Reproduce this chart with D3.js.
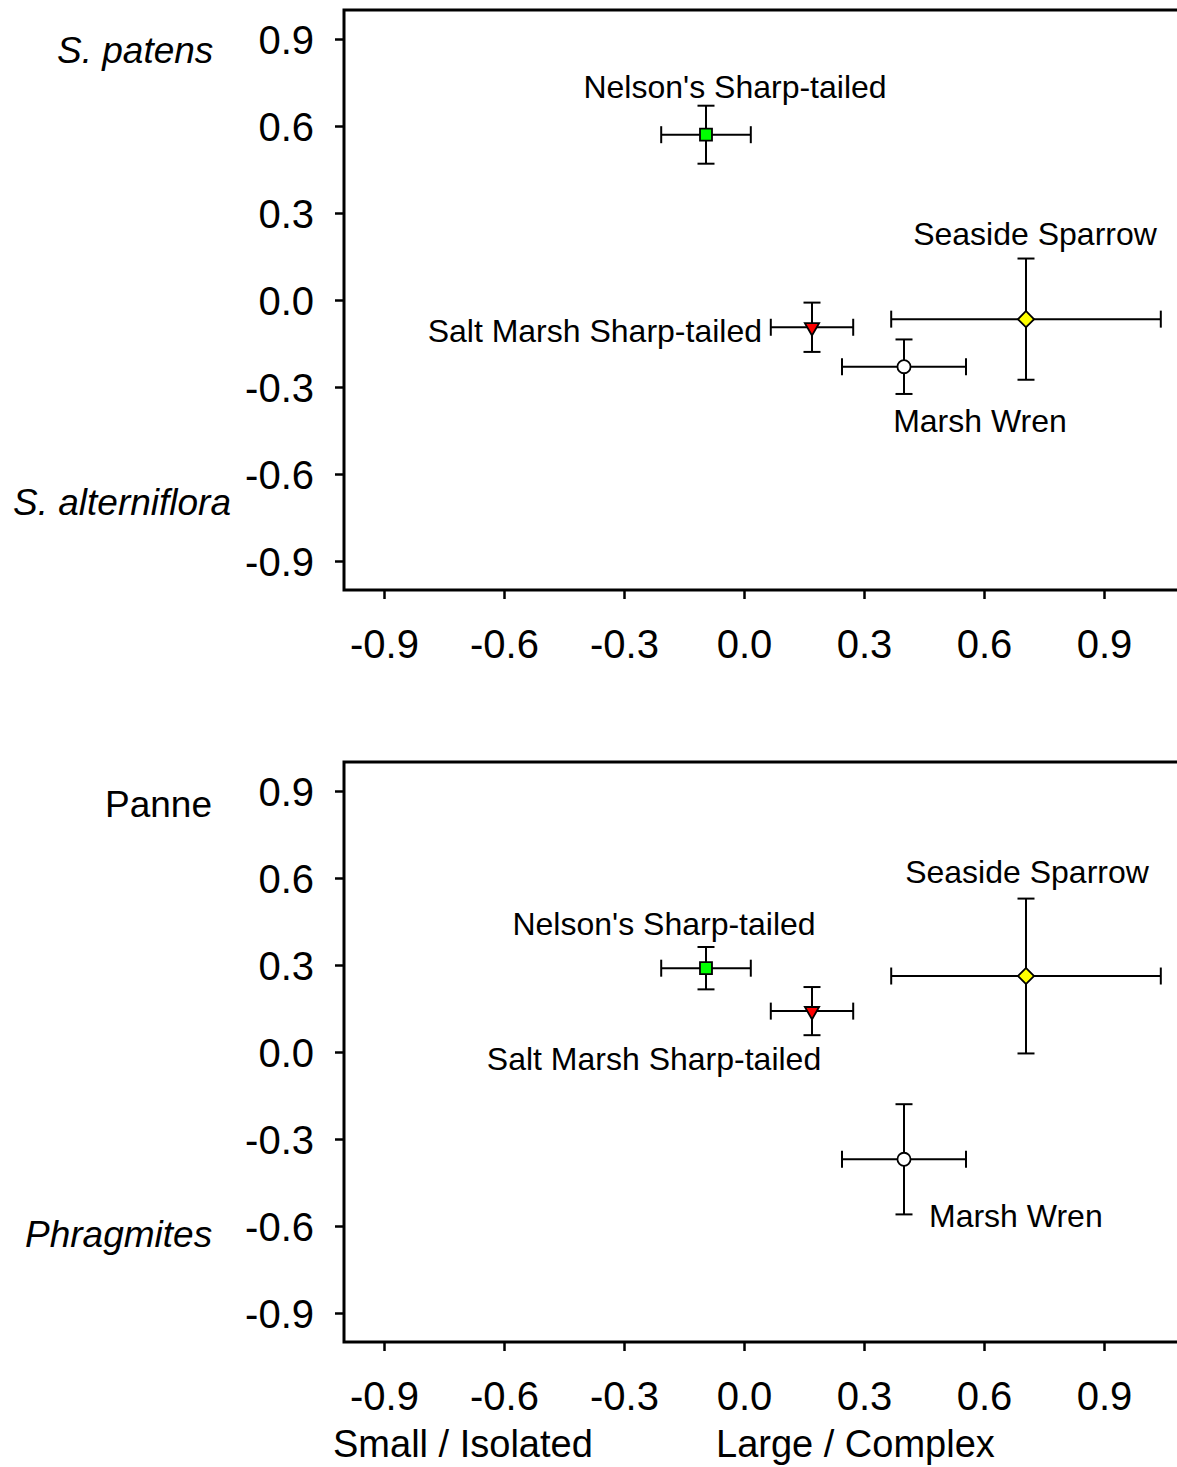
<!DOCTYPE html>
<html>
<head>
<meta charset="utf-8">
<script src="https://cdn.jsdelivr.net/npm/d3@7"></script>
<style>
  body { margin: 0; background: #fff; }
  svg { display: block; font-family: "Liberation Sans", Arial, sans-serif; }
</style>
</head>
<body>
<div id="chart-area"></div>
<script>
// species, in drawing order
var species = ["Nelson's Sharp-tailed", "Salt Marsh Sharp-tailed", "Seaside Sparrow", "Marsh Wren"];

// x: patch size / complexity (same for both panels)
var xMean = [-0.095, 0.17, 0.705, 0.40];
var xErr  = [0.112, 0.103, 0.337, 0.155];

// top panel: S. patens vs S. alterniflora
var topMean = [0.57, -0.094, -0.066, -0.23];
var topErr  = [0.10, 0.085, 0.209, 0.094];

// bottom panel: Panne vs Phragmites
var botMean = [0.289, 0.141, 0.262, -0.37];
var botErr  = [0.073, 0.083, 0.267, 0.19];

var tickValues = [-0.9, -0.6, -0.3, 0.0, 0.3, 0.6, 0.9];

var W = 1177, H = 1467;
var svg = d3.select("#chart-area").append("svg")
    .attr("width", W)
    .attr("height", H);

// marker style per species
var markers = [
    {type: d3.symbolSquare, size: 144, rotate: 0, fill: "#00ff00"},
    {type: d3.symbolTriangle, size: 88, rotate: 180, fill: "#ff0000"},
    {type: d3.symbolSquare, size: 130, rotate: 45, fill: "#ffff00"},
    {type: d3.symbolCircle, size: 135, rotate: 0, fill: "#ffffff"}
];

var x = d3.scaleLinear().domain([-1, 1.1]).range([344, 1184]);

function drawPanel(top, bottom, yMean, yErr, labelLayout, topLabel, bottomLabel) {
    var y = d3.scaleLinear().domain([-1, 1]).range([bottom, top]);
    var g = svg.append("g");

    // frame (right edge runs off the page)
    g.append("rect")
        .attr("x", x(-1))
        .attr("y", y(1))
        .attr("width", x(1.1) - x(-1))
        .attr("height", y(-1) - y(1))
        .attr("fill", "none")
        .attr("stroke", "#000")
        .attr("stroke-width", 3);

    // axes
    var yAxis = g.append("g")
        .attr("transform", "translate(" + x(-1) + ",0)")
        .call(d3.axisLeft(y).tickValues(tickValues).tickSize(9).tickFormat(d => d.toFixed(1)));
    yAxis.select(".domain").remove();
    yAxis.selectAll("line").attr("stroke-width", 2.5);
    yAxis.selectAll("text")
        .attr("x", -30)
        .attr("dy", "0.35em")
        .attr("font-size", "40px")
        .attr("font-family", "Liberation Sans, Arial, sans-serif")
        .attr("fill", "#000");

    var xAxis = g.append("g")
        .attr("transform", "translate(0," + y(-1) + ")")
        .call(d3.axisBottom(x).tickValues(tickValues).tickSize(9).tickFormat(d => d.toFixed(1)));
    xAxis.select(".domain").remove();
    xAxis.selectAll("line").attr("stroke-width", 2.5);
    xAxis.selectAll("text")
        .attr("y", 68)
        .attr("dy", 0)
        .attr("font-size", "40px")
        .attr("font-family", "Liberation Sans, Arial, sans-serif")
        .attr("fill", "#000");

    var cap = 8.5;
    var pts = species.map((s, i) => ({name: s, x: xMean[i], xe: xErr[i], y: yMean[i], ye: yErr[i], i: i}));

    var bars = g.selectAll("g.pt").data(pts).enter().append("g").attr("class", "pt")
        .attr("stroke", "#000").attr("stroke-width", 2);

    // horizontal error bars
    bars.append("line")
        .attr("x1", d => x(d.x - d.xe)).attr("x2", d => x(d.x + d.xe))
        .attr("y1", d => y(d.y)).attr("y2", d => y(d.y));
    bars.append("line")
        .attr("x1", d => x(d.x - d.xe)).attr("x2", d => x(d.x - d.xe))
        .attr("y1", d => y(d.y) - cap).attr("y2", d => y(d.y) + cap);
    bars.append("line")
        .attr("x1", d => x(d.x + d.xe)).attr("x2", d => x(d.x + d.xe))
        .attr("y1", d => y(d.y) - cap).attr("y2", d => y(d.y) + cap);

    // vertical error bars
    bars.append("line")
        .attr("x1", d => x(d.x)).attr("x2", d => x(d.x))
        .attr("y1", d => y(d.y - d.ye)).attr("y2", d => y(d.y + d.ye));
    bars.append("line")
        .attr("x1", d => x(d.x) - cap).attr("x2", d => x(d.x) + cap)
        .attr("y1", d => y(d.y + d.ye)).attr("y2", d => y(d.y + d.ye));
    bars.append("line")
        .attr("x1", d => x(d.x) - cap).attr("x2", d => x(d.x) + cap)
        .attr("y1", d => y(d.y - d.ye)).attr("y2", d => y(d.y - d.ye));

    // markers
    g.selectAll("path.marker").data(pts).enter().append("path")
        .attr("class", "marker")
        .attr("d", d => d3.symbol().type(markers[d.i].type).size(markers[d.i].size)())
        .attr("transform", d => "translate(" + x(d.x) + "," + y(d.y) + ") rotate(" + markers[d.i].rotate + ")")
        .attr("fill", d => markers[d.i].fill)
        .attr("stroke", "#000")
        .attr("stroke-width", 1.8);

    // species labels
    g.selectAll("text.lab").data(pts).enter().append("text")
        .attr("class", "lab")
        .attr("x", d => x(d.x) + labelLayout[d.i][0])
        .attr("y", d => y(d.y) + labelLayout[d.i][1])
        .attr("text-anchor", d => labelLayout[d.i][2])
        .attr("font-size", "32px")
        .attr("fill", "#000")
        .text(d => d.name);

    // gradient end labels on the left
    g.append("text")
        .attr("x", topLabel.x).attr("y", topLabel.y)
        .attr("font-size", "37px")
        .attr("font-style", topLabel.italic ? "italic" : "normal")
        .text(topLabel.text);
    g.append("text")
        .attr("x", bottomLabel.x).attr("y", bottomLabel.y)
        .attr("font-size", "37px")
        .attr("font-style", bottomLabel.italic ? "italic" : "normal")
        .text(bottomLabel.text);
}

// label offsets from each point: [dx, dy, anchor]
drawPanel(10, 590, topMean, topErr,
    [[29, -37, "middle"], [-50, 15, "end"], [9, -74, "middle"], [76, 65, "middle"]],
    {text: "S. patens", x: 57, y: 63, italic: true},
    {text: "S. alterniflora", x: 13, y: 515, italic: true});

drawPanel(762, 1342, botMean, botErr,
    [[-42, -33, "middle"], [-158, 59, "middle"], [1, -93, "middle"], [25, 68, "start"]],
    {text: "Panne", x: 105, y: 817, italic: false},
    {text: "Phragmites", x: 25, y: 1247, italic: true});

// bottom axis end labels
svg.append("text")
    .attr("x", 333).attr("y", 1457)
    .attr("font-size", "38px")
    .text("Small / Isolated");
svg.append("text")
    .attr("x", 716).attr("y", 1457)
    .attr("font-size", "38px")
    .text("Large / Complex");
</script>
</body>
</html>
